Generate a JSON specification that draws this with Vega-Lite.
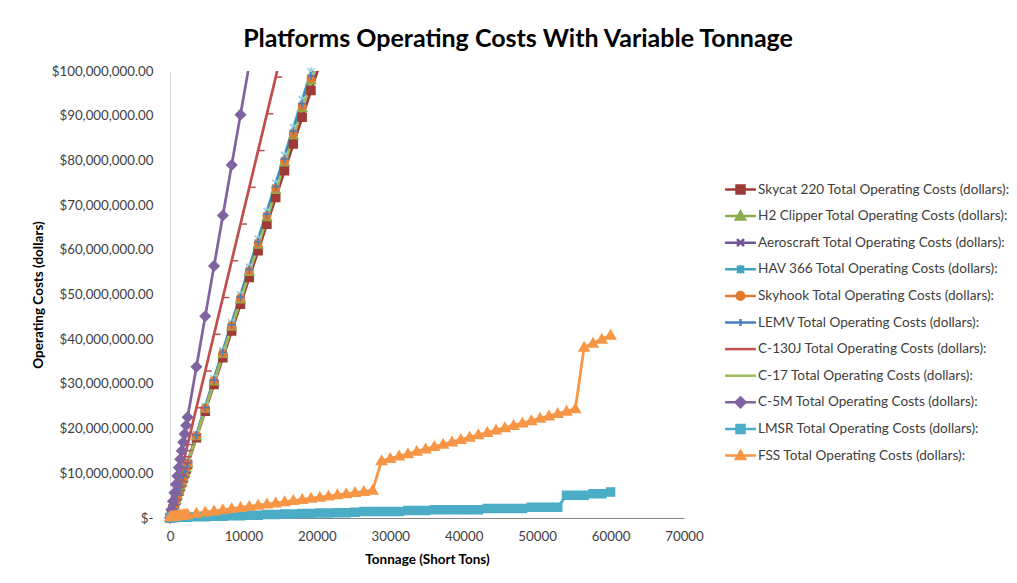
{
"$schema": "https://vega.github.io/schema/vega-lite/v6.json",
"width": 514, "height": 447,
"autosize": "none",
"padding": {"left": 170, "top": 71, "right": 333, "bottom": 65},
"background": "white",
"config": {"font": "Lato", "view": {"stroke": null}},
"title": {"text": "Platforms Operating Costs With Variable Tonnage", "font": "Lato", "fontSize": 25, "fontWeight": "bold", "color": "#000000", "anchor": "middle", "frame": "group", "baseline": "alphabetic", "offset": -8, "dx": 91},
"data": {"values": [
{"s":"Skycat 220","t":0,"c":0},{"s":"Skycat 220","t":200,"c":996000},{"s":"Skycat 220","t":400,"c":1992000},{"s":"Skycat 220","t":600,"c":2988000},{"s":"Skycat 220","t":800,"c":3984000},{"s":"Skycat 220","t":1000,"c":4980000},{"s":"Skycat 220","t":1200,"c":5976000},{"s":"Skycat 220","t":1400,"c":6972000},{"s":"Skycat 220","t":1600,"c":7968000},{"s":"Skycat 220","t":1800,"c":8964000},{"s":"Skycat 220","t":2000,"c":9960000},{"s":"Skycat 220","t":2200,"c":10956000},{"s":"Skycat 220","t":2400,"c":11952000},{"s":"Skycat 220","t":3600,"c":17928000},{"s":"Skycat 220","t":4800,"c":23904000},{"s":"Skycat 220","t":6000,"c":29880000},{"s":"Skycat 220","t":7200,"c":35856000},{"s":"Skycat 220","t":8400,"c":41832000},{"s":"Skycat 220","t":9600,"c":47808000},{"s":"Skycat 220","t":10800,"c":53784000},{"s":"Skycat 220","t":12000,"c":59760000},{"s":"Skycat 220","t":13200,"c":65736000},{"s":"Skycat 220","t":14400,"c":71712000},{"s":"Skycat 220","t":15600,"c":77688000},{"s":"Skycat 220","t":16800,"c":83664000},{"s":"Skycat 220","t":18000,"c":89640000},{"s":"Skycat 220","t":19200,"c":95616000},{"s":"Skycat 220","t":20400,"c":101592000},
{"s":"H2 Clipper","t":0,"c":0},{"s":"H2 Clipper","t":200,"c":1020000},{"s":"H2 Clipper","t":400,"c":2040000},{"s":"H2 Clipper","t":600,"c":3060000},{"s":"H2 Clipper","t":800,"c":4080000},{"s":"H2 Clipper","t":1000,"c":5100000},{"s":"H2 Clipper","t":1200,"c":6120000},{"s":"H2 Clipper","t":1400,"c":7140000},{"s":"H2 Clipper","t":1600,"c":8160000},{"s":"H2 Clipper","t":1800,"c":9180000},{"s":"H2 Clipper","t":2000,"c":10200000},{"s":"H2 Clipper","t":2200,"c":11220000},{"s":"H2 Clipper","t":2400,"c":12240000},{"s":"H2 Clipper","t":3600,"c":18360000},{"s":"H2 Clipper","t":4800,"c":24480000},{"s":"H2 Clipper","t":6000,"c":30600000},{"s":"H2 Clipper","t":7200,"c":36720000},{"s":"H2 Clipper","t":8400,"c":42840000},{"s":"H2 Clipper","t":9600,"c":48960000},{"s":"H2 Clipper","t":10800,"c":55080000},{"s":"H2 Clipper","t":12000,"c":61200000},{"s":"H2 Clipper","t":13200,"c":67320000},{"s":"H2 Clipper","t":14400,"c":73440000},{"s":"H2 Clipper","t":15600,"c":79560000},{"s":"H2 Clipper","t":16800,"c":85680000},{"s":"H2 Clipper","t":18000,"c":91800000},{"s":"H2 Clipper","t":19200,"c":97920000},{"s":"H2 Clipper","t":20400,"c":104040000},
{"s":"Aeroscraft","t":0,"c":0},{"s":"Aeroscraft","t":200,"c":1026000},{"s":"Aeroscraft","t":400,"c":2052000},{"s":"Aeroscraft","t":600,"c":3078000},{"s":"Aeroscraft","t":800,"c":4104000},{"s":"Aeroscraft","t":1000,"c":5130000},{"s":"Aeroscraft","t":1200,"c":6156000},{"s":"Aeroscraft","t":1400,"c":7182000},{"s":"Aeroscraft","t":1600,"c":8208000},{"s":"Aeroscraft","t":1800,"c":9234000},{"s":"Aeroscraft","t":2000,"c":10260000},{"s":"Aeroscraft","t":2200,"c":11286000},{"s":"Aeroscraft","t":2400,"c":12312000},{"s":"Aeroscraft","t":3600,"c":18468000},{"s":"Aeroscraft","t":4800,"c":24624000},{"s":"Aeroscraft","t":6000,"c":30780000},{"s":"Aeroscraft","t":7200,"c":36936000},{"s":"Aeroscraft","t":8400,"c":43092000},{"s":"Aeroscraft","t":9600,"c":49248000},{"s":"Aeroscraft","t":10800,"c":55404000},{"s":"Aeroscraft","t":12000,"c":61560000},{"s":"Aeroscraft","t":13200,"c":67716000},{"s":"Aeroscraft","t":14400,"c":73872000},{"s":"Aeroscraft","t":15600,"c":80028000},{"s":"Aeroscraft","t":16800,"c":86184000},{"s":"Aeroscraft","t":18000,"c":92340000},{"s":"Aeroscraft","t":19200,"c":98496000},{"s":"Aeroscraft","t":20400,"c":104652000},
{"s":"HAV 366","t":0,"c":0},{"s":"HAV 366","t":200,"c":1040000},{"s":"HAV 366","t":400,"c":2080000},{"s":"HAV 366","t":600,"c":3120000},{"s":"HAV 366","t":800,"c":4160000},{"s":"HAV 366","t":1000,"c":5200000},{"s":"HAV 366","t":1200,"c":6240000},{"s":"HAV 366","t":1400,"c":7280000},{"s":"HAV 366","t":1600,"c":8320000},{"s":"HAV 366","t":1800,"c":9360000},{"s":"HAV 366","t":2000,"c":10400000},{"s":"HAV 366","t":2200,"c":11440000},{"s":"HAV 366","t":2400,"c":12480000},{"s":"HAV 366","t":3600,"c":18720000},{"s":"HAV 366","t":4800,"c":24960000},{"s":"HAV 366","t":6000,"c":31200000},{"s":"HAV 366","t":7200,"c":37440000},{"s":"HAV 366","t":8400,"c":43680000},{"s":"HAV 366","t":9600,"c":49920000},{"s":"HAV 366","t":10800,"c":56160000},{"s":"HAV 366","t":12000,"c":62400000},{"s":"HAV 366","t":13200,"c":68640000},{"s":"HAV 366","t":14400,"c":74880000},{"s":"HAV 366","t":15600,"c":81120000},{"s":"HAV 366","t":16800,"c":87360000},{"s":"HAV 366","t":18000,"c":93600000},{"s":"HAV 366","t":19200,"c":99840000},{"s":"HAV 366","t":20400,"c":106080000},
{"s":"Skyhook","t":0,"c":0},{"s":"Skyhook","t":200,"c":1024000},{"s":"Skyhook","t":400,"c":2048000},{"s":"Skyhook","t":600,"c":3072000},{"s":"Skyhook","t":800,"c":4096000},{"s":"Skyhook","t":1000,"c":5120000},{"s":"Skyhook","t":1200,"c":6144000},{"s":"Skyhook","t":1400,"c":7168000},{"s":"Skyhook","t":1600,"c":8192000},{"s":"Skyhook","t":1800,"c":9216000},{"s":"Skyhook","t":2000,"c":10240000},{"s":"Skyhook","t":2200,"c":11264000},{"s":"Skyhook","t":2400,"c":12288000},{"s":"Skyhook","t":3600,"c":18432000},{"s":"Skyhook","t":4800,"c":24576000},{"s":"Skyhook","t":6000,"c":30720000},{"s":"Skyhook","t":7200,"c":36864000},{"s":"Skyhook","t":8400,"c":43008000},{"s":"Skyhook","t":9600,"c":49152000},{"s":"Skyhook","t":10800,"c":55296000},{"s":"Skyhook","t":12000,"c":61440000},{"s":"Skyhook","t":13200,"c":67584000},{"s":"Skyhook","t":14400,"c":73728000},{"s":"Skyhook","t":15600,"c":79872000},{"s":"Skyhook","t":16800,"c":86016000},{"s":"Skyhook","t":18000,"c":92160000},{"s":"Skyhook","t":19200,"c":98304000},{"s":"Skyhook","t":20400,"c":104448000},
{"s":"LEMV","t":0,"c":0},{"s":"LEMV","t":200,"c":1030000},{"s":"LEMV","t":400,"c":2060000},{"s":"LEMV","t":600,"c":3090000},{"s":"LEMV","t":800,"c":4120000},{"s":"LEMV","t":1000,"c":5150000},{"s":"LEMV","t":1200,"c":6180000},{"s":"LEMV","t":1400,"c":7210000},{"s":"LEMV","t":1600,"c":8240000},{"s":"LEMV","t":1800,"c":9270000},{"s":"LEMV","t":2000,"c":10300000},{"s":"LEMV","t":2200,"c":11330000},{"s":"LEMV","t":2400,"c":12360000},{"s":"LEMV","t":3600,"c":18540000},{"s":"LEMV","t":4800,"c":24720000},{"s":"LEMV","t":6000,"c":30900000},{"s":"LEMV","t":7200,"c":37080000},{"s":"LEMV","t":8400,"c":43260000},{"s":"LEMV","t":9600,"c":49440000},{"s":"LEMV","t":10800,"c":55620000},{"s":"LEMV","t":12000,"c":61800000},{"s":"LEMV","t":13200,"c":67980000},{"s":"LEMV","t":14400,"c":74160000},{"s":"LEMV","t":15600,"c":80340000},{"s":"LEMV","t":16800,"c":86520000},{"s":"LEMV","t":18000,"c":92700000},{"s":"LEMV","t":19200,"c":98880000},{"s":"LEMV","t":20400,"c":105060000},
{"s":"C-130J","t":0,"c":0},{"s":"C-130J","t":200,"c":1370000},{"s":"C-130J","t":400,"c":2740000},{"s":"C-130J","t":600,"c":4110000},{"s":"C-130J","t":800,"c":5480000},{"s":"C-130J","t":1000,"c":6850000},{"s":"C-130J","t":1200,"c":8220000},{"s":"C-130J","t":1400,"c":9590000},{"s":"C-130J","t":1600,"c":10960000},{"s":"C-130J","t":1800,"c":12330000},{"s":"C-130J","t":2000,"c":13700000},{"s":"C-130J","t":2200,"c":15070000},{"s":"C-130J","t":2400,"c":16440000},{"s":"C-130J","t":3600,"c":24660000},{"s":"C-130J","t":4800,"c":32880000},{"s":"C-130J","t":6000,"c":41100000},{"s":"C-130J","t":7200,"c":49320000},{"s":"C-130J","t":8400,"c":57540000},{"s":"C-130J","t":9600,"c":65760000},{"s":"C-130J","t":10800,"c":73980000},{"s":"C-130J","t":12000,"c":82200000},{"s":"C-130J","t":13200,"c":90420000},{"s":"C-130J","t":14400,"c":98640000},{"s":"C-130J","t":15600,"c":106860000},
{"s":"C-17","t":0,"c":0},{"s":"C-17","t":200,"c":1016000},{"s":"C-17","t":400,"c":2032000},{"s":"C-17","t":600,"c":3048000},{"s":"C-17","t":800,"c":4064000},{"s":"C-17","t":1000,"c":5080000},{"s":"C-17","t":1200,"c":6096000},{"s":"C-17","t":1400,"c":7112000},{"s":"C-17","t":1600,"c":8128000},{"s":"C-17","t":1800,"c":9144000},{"s":"C-17","t":2000,"c":10160000},{"s":"C-17","t":2200,"c":11176000},{"s":"C-17","t":2400,"c":12192000},{"s":"C-17","t":3600,"c":18288000},{"s":"C-17","t":4800,"c":24384000},{"s":"C-17","t":6000,"c":30480000},{"s":"C-17","t":7200,"c":36576000},{"s":"C-17","t":8400,"c":42672000},{"s":"C-17","t":9600,"c":48768000},{"s":"C-17","t":10800,"c":54864000},{"s":"C-17","t":12000,"c":60960000},{"s":"C-17","t":13200,"c":67056000},{"s":"C-17","t":14400,"c":73152000},{"s":"C-17","t":15600,"c":79248000},{"s":"C-17","t":16800,"c":85344000},{"s":"C-17","t":18000,"c":91440000},{"s":"C-17","t":19200,"c":97536000},{"s":"C-17","t":20400,"c":103632000},
{"s":"C-5M","t":0,"c":0},{"s":"C-5M","t":200,"c":1880000},{"s":"C-5M","t":400,"c":3760000},{"s":"C-5M","t":600,"c":5640000},{"s":"C-5M","t":800,"c":7520000},{"s":"C-5M","t":1000,"c":9400000},{"s":"C-5M","t":1200,"c":11280000},{"s":"C-5M","t":1400,"c":13160000},{"s":"C-5M","t":1600,"c":15040000},{"s":"C-5M","t":1800,"c":16920000},{"s":"C-5M","t":2000,"c":18800000},{"s":"C-5M","t":2200,"c":20680000},{"s":"C-5M","t":2400,"c":22560000},{"s":"C-5M","t":3600,"c":33840000},{"s":"C-5M","t":4800,"c":45120000},{"s":"C-5M","t":6000,"c":56400000},{"s":"C-5M","t":7200,"c":67680000},{"s":"C-5M","t":8400,"c":78960000},{"s":"C-5M","t":9600,"c":90240000},{"s":"C-5M","t":10800,"c":101520000},
{"s":"LMSR","t":0,"c":100000},{"s":"LMSR","t":200,"c":110000},{"s":"LMSR","t":400,"c":120000},{"s":"LMSR","t":600,"c":130000},{"s":"LMSR","t":800,"c":140000},{"s":"LMSR","t":1000,"c":150000},{"s":"LMSR","t":1200,"c":160000},{"s":"LMSR","t":1400,"c":170000},{"s":"LMSR","t":1600,"c":180000},{"s":"LMSR","t":1800,"c":190000},{"s":"LMSR","t":2000,"c":200000},{"s":"LMSR","t":2200,"c":210000},{"s":"LMSR","t":2400,"c":220000},{"s":"LMSR","t":3600,"c":280000},{"s":"LMSR","t":4800,"c":280000},{"s":"LMSR","t":6000,"c":400000},{"s":"LMSR","t":7200,"c":400000},{"s":"LMSR","t":8400,"c":520000},{"s":"LMSR","t":9600,"c":520000},{"s":"LMSR","t":10800,"c":640000},{"s":"LMSR","t":12000,"c":640000},{"s":"LMSR","t":13200,"c":760000},{"s":"LMSR","t":14400,"c":760000},{"s":"LMSR","t":15600,"c":880000},{"s":"LMSR","t":16800,"c":880000},{"s":"LMSR","t":18000,"c":1000000},{"s":"LMSR","t":19200,"c":1000000},{"s":"LMSR","t":20400,"c":1100000},{"s":"LMSR","t":21600,"c":1100000},{"s":"LMSR","t":22800,"c":1200000},{"s":"LMSR","t":24000,"c":1200000},{"s":"LMSR","t":25200,"c":1300000},{"s":"LMSR","t":26400,"c":1450000},{"s":"LMSR","t":27600,"c":1450000},{"s":"LMSR","t":28800,"c":1450000},{"s":"LMSR","t":30000,"c":1450000},{"s":"LMSR","t":31200,"c":1450000},{"s":"LMSR","t":32400,"c":1650000},{"s":"LMSR","t":33600,"c":1650000},{"s":"LMSR","t":34800,"c":1650000},{"s":"LMSR","t":36000,"c":1850000},{"s":"LMSR","t":37200,"c":1850000},{"s":"LMSR","t":38400,"c":1850000},{"s":"LMSR","t":39600,"c":1850000},{"s":"LMSR","t":40800,"c":1850000},{"s":"LMSR","t":42000,"c":1850000},{"s":"LMSR","t":43200,"c":2100000},{"s":"LMSR","t":44400,"c":2100000},{"s":"LMSR","t":45600,"c":2100000},{"s":"LMSR","t":46800,"c":2100000},{"s":"LMSR","t":48000,"c":2100000},{"s":"LMSR","t":49200,"c":2400000},{"s":"LMSR","t":50400,"c":2400000},{"s":"LMSR","t":51600,"c":2400000},{"s":"LMSR","t":52800,"c":2400000},{"s":"LMSR","t":54000,"c":5100000},{"s":"LMSR","t":55200,"c":5100000},{"s":"LMSR","t":56400,"c":5100000},{"s":"LMSR","t":57600,"c":5450000},{"s":"LMSR","t":58800,"c":5450000},{"s":"LMSR","t":60000,"c":5800000},
{"s":"FSS","t":0,"c":300000},{"s":"FSS","t":200,"c":343000},{"s":"FSS","t":400,"c":386000},{"s":"FSS","t":600,"c":428000},{"s":"FSS","t":800,"c":471000},{"s":"FSS","t":1000,"c":514000},{"s":"FSS","t":1200,"c":557000},{"s":"FSS","t":1400,"c":600000},{"s":"FSS","t":1600,"c":642000},{"s":"FSS","t":1800,"c":685000},{"s":"FSS","t":2000,"c":728000},{"s":"FSS","t":2200,"c":771000},{"s":"FSS","t":2400,"c":814000},{"s":"FSS","t":3600,"c":1070000},{"s":"FSS","t":4800,"c":1327000},{"s":"FSS","t":6000,"c":1584000},{"s":"FSS","t":7200,"c":1841000},{"s":"FSS","t":8400,"c":2098000},{"s":"FSS","t":9600,"c":2354000},{"s":"FSS","t":10800,"c":2611000},{"s":"FSS","t":12000,"c":2868000},{"s":"FSS","t":13200,"c":3125000},{"s":"FSS","t":14400,"c":3382000},{"s":"FSS","t":15600,"c":3638000},{"s":"FSS","t":16800,"c":3895000},{"s":"FSS","t":18000,"c":4152000},{"s":"FSS","t":19200,"c":4409000},{"s":"FSS","t":20400,"c":4666000},{"s":"FSS","t":21600,"c":4922000},{"s":"FSS","t":22800,"c":5179000},{"s":"FSS","t":24000,"c":5436000},{"s":"FSS","t":25200,"c":5693000},{"s":"FSS","t":26400,"c":5950000},{"s":"FSS","t":27600,"c":6206000},{"s":"FSS","t":28800,"c":12800000},{"s":"FSS","t":30000,"c":13328000},{"s":"FSS","t":31200,"c":13856000},{"s":"FSS","t":32400,"c":14384000},{"s":"FSS","t":33600,"c":14912000},{"s":"FSS","t":34800,"c":15440000},{"s":"FSS","t":36000,"c":15968000},{"s":"FSS","t":37200,"c":16496000},{"s":"FSS","t":38400,"c":17024000},{"s":"FSS","t":39600,"c":17552000},{"s":"FSS","t":40800,"c":18080000},{"s":"FSS","t":42000,"c":18608000},{"s":"FSS","t":43200,"c":19136000},{"s":"FSS","t":44400,"c":19664000},{"s":"FSS","t":45600,"c":20192000},{"s":"FSS","t":46800,"c":20720000},{"s":"FSS","t":48000,"c":21248000},{"s":"FSS","t":49200,"c":21776000},{"s":"FSS","t":50400,"c":22304000},{"s":"FSS","t":51600,"c":22832000},{"s":"FSS","t":52800,"c":23360000},{"s":"FSS","t":54000,"c":23888000},{"s":"FSS","t":55200,"c":24416000},{"s":"FSS","t":56400,"c":38200000},{"s":"FSS","t":57600,"c":39100000},{"s":"FSS","t":58800,"c":40000000},{"s":"FSS","t":60000,"c":40900000}
]},
"encoding": {
  "x": {"field": "t", "type": "quantitative", "scale": {"domain": [0, 70000], "nice": false, "zero": true},
        "axis": {"values": [0,10000,20000,30000,40000,50000,60000,70000], "format": "d", "labelFont": "Lato", "labelFontSize": 13.3, "labelColor": "#404040", "labelPadding": 11, "labelFlush": false, "labelOverlap": false, "ticks": false, "grid": false, "domainColor": "#868686", "domainWidth": 1, "title": "Tonnage (Short Tons)", "titleFont": "Lato", "titleFontSize": 13.5, "titleFontWeight": "bold", "titleColor": "#000000", "titlePadding": 10}},
  "y": {"field": "c", "type": "quantitative", "scale": {"domain": [0, 100000000], "nice": false},
        "axis": {"values": [0,10000000,20000000,30000000,40000000,50000000,60000000,70000000,80000000,90000000,100000000], "labelExpr": "datum.value == 0 ? '$-' : format(datum.value, '$,.2f')", "labelFont": "Lato", "labelFontSize": 13.3, "labelColor": "#404040", "labelPadding": 17, "labelFlush": false, "labelOverlap": false, "ticks": false, "grid": false, "domainColor": "#D9D9D9", "domainWidth": 1, "title": "Operating Costs (dollars)", "titleFont": "Lato", "titleFontSize": 13.5, "titleFontWeight": "bold", "titleColor": "#000000", "titlePadding": 6}},
  "color": {"field": "s", "type": "nominal",
    "scale": {"domain": ["Skycat 220","H2 Clipper","Aeroscraft","HAV 366","Skyhook","LEMV","C-130J","C-17","C-5M","LMSR","FSS"],
              "range": ["#9E3B37","#8AAE4E","#71539A","#3FA3BF","#E27A30","#4A7EBB","#C0504D","#9BBB59","#8064A2","#4BACC6","#F79646"]},
    "legend": {"title": null, "orient": "none", "legendX": 562, "legendY": 110, "padding": 0, "gridAlign": "all",
      "labelExpr": "datum.label + ' Total Operating Costs (dollars):'", "labelFont": "Lato", "labelFontSize": 13.6, "labelColor": "#404040", "labelLimit": 400,
      "symbolSize": 196, "symbolStrokeWidth": 2.5, "symbolOpacity": 1, "rowPadding": 5.6, "labelOffset": 9,
      "encode": {"symbols": {"update": {
        "shape": {"signal": "datum.value === 'Skycat 220' || datum.value === 'LMSR' ? 'M-2.2,0H2.2M-0.57,-0.57H0.57V0.57H-0.57Z' : (datum.value === 'H2 Clipper' || datum.value === 'FSS') ? 'M-2.2,0H2.2M0,-0.65L0.65,0.5H-0.65Z' : datum.value === 'Aeroscraft' ? 'M-2.2,0H2.2M-0.5,-0.5L0.5,0.5M-0.5,0.5L0.5,-0.5' : datum.value === 'HAV 366' ? 'M-2.2,0H2.2M-0.5,-0.5L0.5,0.5M-0.5,0.5L0.5,-0.5M0,-0.6V0.6' : datum.value === 'Skyhook' ? 'M-2.2,0H2.2M0.55,0A0.55,0.55,0,1,1,-0.55,0A0.55,0.55,0,1,1,0.55,0Z' : datum.value === 'LEMV' ? 'M-2.2,0H2.2M0,-0.5V0.5' : datum.value === 'C-5M' ? 'M-2.2,0H2.2M0,-0.7L0.7,0L0,0.7L-0.7,0Z' : 'M-2.2,0H2.2'"},
        "stroke": {"scale": "color", "field": "value"},
        "fill": {"scale": "color", "field": "value"},
        "strokeWidth": {"value": 2.5},
        "opacity": {"value": 1}
      }}}
    }}
},
"layer": [
  {"mark": {"type": "line", "strokeWidth": 2.75, "clip": true}},
  {"transform": [{"filter": "datum.s != 'C-17' && datum.c <= 100000000"}],
   "mark": {"type": "point", "filled": true, "size": 100, "strokeWidth": 1.5, "opacity": 1,
     "stroke": {"expr": "datum.s === 'Aeroscraft' ? '#B3A2C7' : datum.s === 'HAV 366' ? '#93CDDD' : scale('color', datum.s)"},
     "shape": {"expr": "(datum.s === 'Skycat 220' || datum.s === 'LMSR') ? 'M-0.8,-0.8H0.8V0.8H-0.8Z' : datum.s === 'H2 Clipper' ? 'M0,-0.9L0.9,0.7H-0.9Z' : datum.s === 'FSS' ? 'M0,-1L1,0.75H-1Z' : datum.s === 'Aeroscraft' ? 'M-0.7,-0.7L0.7,0.7M-0.7,0.7L0.7,-0.7' : datum.s === 'HAV 366' ? 'M-0.7,-0.7L0.7,0.7M-0.7,0.7L0.7,-0.7M0,-0.9V0.9' : datum.s === 'Skyhook' ? 'M0.75,0A0.75,0.75,0,1,1,-0.75,0A0.75,0.75,0,1,1,0.75,0Z' : datum.s === 'LEMV' ? 'M-0.8,0H0.8M0,-0.8V0.8' : datum.s === 'C-130J' ? 'M0,0H1.3' : 'M0,-1L1,0L0,1L-1,0Z'"}}
  }
]
}
